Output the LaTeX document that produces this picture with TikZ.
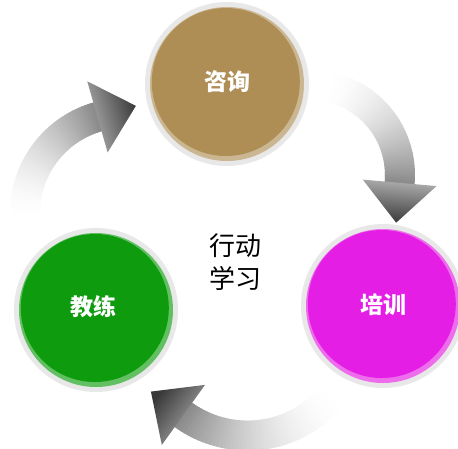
\documentclass[tikz,border=0pt]{standalone}
\usepackage{fontspec}
\newfontfamily\cjk{Noto Sans CJK SC}
\usetikzlibrary{calc}
\definecolor{cbrown}{HTML}{AE8E55}
\definecolor{cgreen}{HTML}{0E9C0E}
\definecolor{cmag}{HTML}{E41EE4}
\definecolor{crim}{HTML}{E8E8E8}
\tikzset{
  face/.style={circle, inner sep=0pt, minimum size=146pt, text=white, font=\cjk\bfseries\fontsize{23}{26}\selectfont},
  centertext/.style={align=center, text=black, font=\cjk\fontsize{26}{33}\selectfont},
}
% #1 cx, #2 cy, #3 R, #4 start angle, #5 end angle
\newcommand\cyclearrow[5]{%
  \foreach \i in {0,...,47}{%
    \pgfmathsetmacro\ta{#4+(#5-#4)*\i/48}%
    \pgfmathsetmacro\tb{#4+(#5-#4)*(\i+1)/48+0.7}%
    \pgfmathsetmacro\pp{46*((\i+0.5)/48)^1.8}%
    \draw[line width=30pt, black!\pp] ([shift={(\ta:#3)}]#1,#2) arc[start angle=\ta, end angle=\tb, radius=#3];
  }%
  \pgfmathsetmacro\mx{#1+#3*cos(#5)}%
  \pgfmathsetmacro\my{#2+#3*sin(#5)}%
  \pgfmathsetmacro\sa{180-#5}%
  \shade[top color=black!78, bottom color=black!30, shading angle=\sa]
    ({\mx+37*cos(#5)},{\my+37*sin(#5)}) -- ({\mx-40*sin(#5)},{\my+40*cos(#5)}) -- ({\mx-37*cos(#5)},{\my-37*sin(#5)}) -- cycle;
}
\newcommand\glossydisc[2]{% #1 coordinate name, #2 colour
  \fill[crim] (#1) circle (82);
  \fill[#2!65!white] (#1) circle (77);
  \fill[#2] ($(#1)+(-1.2,-2)$) circle (74);
}
\begin{document}
\begin{tikzpicture}[x=1pt, y=-1pt]
  \useasboundingbox (0,0) rectangle (458,448);
  \fill[white] (0,0) rectangle (458,448);
  % arrows
  \cyclearrow{125}{213}{100}{176}{254}
  \cyclearrow{310}{175}{90}{280}{365}
  \cyclearrow{247.6}{325.6}{110}{38}{125.7}
  % discs
  \coordinate (pz) at (227,84);
  \coordinate (pp) at (383,306);
  \coordinate (pj) at (96,310);
  \glossydisc{pz}{cbrown}
  \glossydisc{pp}{cmag}
  \glossydisc{pj}{cgreen}
  \node[face] (zixun) at ($(pz)+(0,-2)$) {咨询};
  \node[face] (peixun) at ($(pp)+(0,-1)$) {培训};
  \node[face] (jiaolian) at ($(pj)+(-3,-3)$) {教练};
  \node[centertext] (center) at (235,262) {行动\\学习};
\end{tikzpicture}
\end{document}
